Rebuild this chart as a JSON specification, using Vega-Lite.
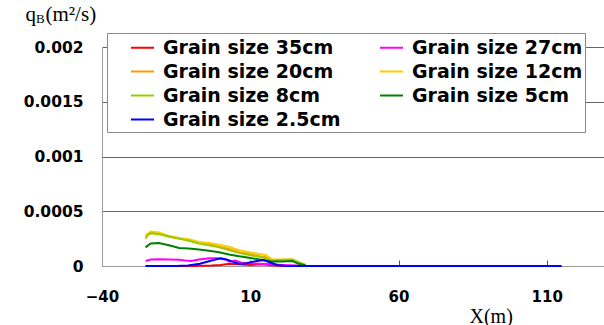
{
  "$schema": "https://vega.github.io/schema/vega-lite/v6.json",
  "width": 502,
  "height": 219,
  "autosize": {"type": "none"},
  "padding": {"left": 102, "top": 47, "right": 0, "bottom": 59},
  "background": "white",
  "title": {"text": "B", "anchor": "start", "frame": "group", "orient": "top", "font": "Liberation Serif", "fontSize": 13, "fontWeight": "normal", "color": "black", "baseline": "alphabetic", "offset": 0, "dx": -66, "dy": 33},
  "config": {"view": {"stroke": null}},
  "resolve": {"axis": {"x": "independent"}},
  "datasets": {
    "lines": [
      {"size": "Grain size 35cm", "x": -25.3, "q": 0},
      {"size": "Grain size 35cm", "x": -10, "q": 0},
      {"size": "Grain size 35cm", "x": -3, "q": 0.000005},
      {"size": "Grain size 35cm", "x": 0, "q": 0.00001},
      {"size": "Grain size 35cm", "x": 3, "q": 0.00002},
      {"size": "Grain size 35cm", "x": 6, "q": 0.000015},
      {"size": "Grain size 35cm", "x": 10, "q": 0.00001},
      {"size": "Grain size 35cm", "x": 14, "q": 0.000015},
      {"size": "Grain size 35cm", "x": 18, "q": 0.000005},
      {"size": "Grain size 35cm", "x": 22, "q": 0},
      {"size": "Grain size 35cm", "x": 27, "q": 0},

      {"size": "Grain size 27cm", "x": -25.3, "q": 0.000045},
      {"size": "Grain size 27cm", "x": -23.6, "q": 0.00006},
      {"size": "Grain size 27cm", "x": -20.8, "q": 0.000062},
      {"size": "Grain size 27cm", "x": -17.4, "q": 0.00006},
      {"size": "Grain size 27cm", "x": -14, "q": 0.000058},
      {"size": "Grain size 27cm", "x": -12, "q": 0.00005},
      {"size": "Grain size 27cm", "x": -10, "q": 0.000045},
      {"size": "Grain size 27cm", "x": -7.3, "q": 0.00006},
      {"size": "Grain size 27cm", "x": -3.9, "q": 0.00007},
      {"size": "Grain size 27cm", "x": -1, "q": 0.00007},
      {"size": "Grain size 27cm", "x": 1.5, "q": 0.00006},
      {"size": "Grain size 27cm", "x": 3, "q": 0.00004},
      {"size": "Grain size 27cm", "x": 5, "q": 0.00005},
      {"size": "Grain size 27cm", "x": 7, "q": 0.00003},
      {"size": "Grain size 27cm", "x": 10, "q": 0.000025},
      {"size": "Grain size 27cm", "x": 13, "q": 0.00002},
      {"size": "Grain size 27cm", "x": 17, "q": 0.000015},
      {"size": "Grain size 27cm", "x": 21, "q": 0.00001},
      {"size": "Grain size 27cm", "x": 26, "q": 0.000005},
      {"size": "Grain size 27cm", "x": 28.7, "q": 0},

      {"size": "Grain size 20cm", "x": -25.3, "q": 0.00025},
      {"size": "Grain size 20cm", "x": -24.5, "q": 0.00029},
      {"size": "Grain size 20cm", "x": -23, "q": 0.000305},
      {"size": "Grain size 20cm", "x": -20.8, "q": 0.0003},
      {"size": "Grain size 20cm", "x": -17.4, "q": 0.00027},
      {"size": "Grain size 20cm", "x": -14, "q": 0.00025},
      {"size": "Grain size 20cm", "x": -10.7, "q": 0.000235},
      {"size": "Grain size 20cm", "x": -7.3, "q": 0.00021},
      {"size": "Grain size 20cm", "x": -3.9, "q": 0.0002},
      {"size": "Grain size 20cm", "x": -0.5, "q": 0.000175},
      {"size": "Grain size 20cm", "x": 2.8, "q": 0.000155},
      {"size": "Grain size 20cm", "x": 6.2, "q": 0.000125},
      {"size": "Grain size 20cm", "x": 9.6, "q": 0.00011},
      {"size": "Grain size 20cm", "x": 13, "q": 0.00009},
      {"size": "Grain size 20cm", "x": 15.2, "q": 0.00008},
      {"size": "Grain size 20cm", "x": 17.4, "q": 0.000045},
      {"size": "Grain size 20cm", "x": 19.7, "q": 0.00005},
      {"size": "Grain size 20cm", "x": 24.2, "q": 0.00005},
      {"size": "Grain size 20cm", "x": 26.4, "q": 0.000025},
      {"size": "Grain size 20cm", "x": 28.7, "q": 0.000005},

      {"size": "Grain size 12cm", "x": -25.3, "q": 0.00028},
      {"size": "Grain size 12cm", "x": -23.6, "q": 0.000315},
      {"size": "Grain size 12cm", "x": -20.8, "q": 0.000305},
      {"size": "Grain size 12cm", "x": -17.4, "q": 0.000275},
      {"size": "Grain size 12cm", "x": -14, "q": 0.000255},
      {"size": "Grain size 12cm", "x": -10.7, "q": 0.000245},
      {"size": "Grain size 12cm", "x": -7.3, "q": 0.00022},
      {"size": "Grain size 12cm", "x": -3.9, "q": 0.00021},
      {"size": "Grain size 12cm", "x": -0.5, "q": 0.000195},
      {"size": "Grain size 12cm", "x": 2.8, "q": 0.000175},
      {"size": "Grain size 12cm", "x": 6.2, "q": 0.000145},
      {"size": "Grain size 12cm", "x": 9.6, "q": 0.000125},
      {"size": "Grain size 12cm", "x": 13, "q": 0.00011},
      {"size": "Grain size 12cm", "x": 15.2, "q": 0.0001},
      {"size": "Grain size 12cm", "x": 17.4, "q": 0.00006},
      {"size": "Grain size 12cm", "x": 19.7, "q": 0.00006},
      {"size": "Grain size 12cm", "x": 24.2, "q": 0.00006},
      {"size": "Grain size 12cm", "x": 26.4, "q": 0.00003},
      {"size": "Grain size 12cm", "x": 28.7, "q": 0.000008},

      {"size": "Grain size 8cm", "x": -25.3, "q": 0.000265},
      {"size": "Grain size 8cm", "x": -23.6, "q": 0.0003},
      {"size": "Grain size 8cm", "x": -20.8, "q": 0.00029},
      {"size": "Grain size 8cm", "x": -17.4, "q": 0.00027},
      {"size": "Grain size 8cm", "x": -14, "q": 0.00025},
      {"size": "Grain size 8cm", "x": -10.7, "q": 0.00023},
      {"size": "Grain size 8cm", "x": -7.3, "q": 0.000205},
      {"size": "Grain size 8cm", "x": -3.9, "q": 0.00019},
      {"size": "Grain size 8cm", "x": -0.5, "q": 0.00017},
      {"size": "Grain size 8cm", "x": 2.8, "q": 0.000145},
      {"size": "Grain size 8cm", "x": 6.2, "q": 0.00012},
      {"size": "Grain size 8cm", "x": 9.6, "q": 0.0001},
      {"size": "Grain size 8cm", "x": 13, "q": 0.000085},
      {"size": "Grain size 8cm", "x": 15.2, "q": 0.00007},
      {"size": "Grain size 8cm", "x": 17.4, "q": 0.00005},
      {"size": "Grain size 8cm", "x": 19.7, "q": 0.000055},
      {"size": "Grain size 8cm", "x": 24.2, "q": 0.00006},
      {"size": "Grain size 8cm", "x": 26.4, "q": 0.000035},
      {"size": "Grain size 8cm", "x": 28.7, "q": 0.00001},

      {"size": "Grain size 5cm", "x": -25.3, "q": 0.00017},
      {"size": "Grain size 5cm", "x": -23.6, "q": 0.000205},
      {"size": "Grain size 5cm", "x": -20.8, "q": 0.00021},
      {"size": "Grain size 5cm", "x": -17.4, "q": 0.00019},
      {"size": "Grain size 5cm", "x": -14, "q": 0.000165},
      {"size": "Grain size 5cm", "x": -10.7, "q": 0.00016},
      {"size": "Grain size 5cm", "x": -7.3, "q": 0.00015},
      {"size": "Grain size 5cm", "x": -3.9, "q": 0.00014},
      {"size": "Grain size 5cm", "x": -0.5, "q": 0.000125},
      {"size": "Grain size 5cm", "x": 2.8, "q": 0.000105},
      {"size": "Grain size 5cm", "x": 6.2, "q": 0.00009},
      {"size": "Grain size 5cm", "x": 9.6, "q": 0.000075},
      {"size": "Grain size 5cm", "x": 13, "q": 0.00006},
      {"size": "Grain size 5cm", "x": 15.2, "q": 0.00005},
      {"size": "Grain size 5cm", "x": 17.4, "q": 0.00004},
      {"size": "Grain size 5cm", "x": 21, "q": 0.00004},
      {"size": "Grain size 5cm", "x": 24.2, "q": 0.000045},
      {"size": "Grain size 5cm", "x": 26.4, "q": 0.00002},
      {"size": "Grain size 5cm", "x": 28.7, "q": 0.000005},

      {"size": "Grain size 2.5cm", "x": -25.3, "q": 0},
      {"size": "Grain size 2.5cm", "x": -15, "q": 0},
      {"size": "Grain size 2.5cm", "x": -11, "q": 0.000005},
      {"size": "Grain size 2.5cm", "x": -7, "q": 0.00002},
      {"size": "Grain size 2.5cm", "x": -3, "q": 0.00005},
      {"size": "Grain size 2.5cm", "x": 0, "q": 0.00007},
      {"size": "Grain size 2.5cm", "x": 2, "q": 0.00006},
      {"size": "Grain size 2.5cm", "x": 4, "q": 0.00004},
      {"size": "Grain size 2.5cm", "x": 6, "q": 0.00002},
      {"size": "Grain size 2.5cm", "x": 8, "q": 0.00002},
      {"size": "Grain size 2.5cm", "x": 11, "q": 0.00004},
      {"size": "Grain size 2.5cm", "x": 14.5, "q": 0.000055},
      {"size": "Grain size 2.5cm", "x": 17, "q": 0.00003},
      {"size": "Grain size 2.5cm", "x": 19, "q": 0.00001},
      {"size": "Grain size 2.5cm", "x": 22, "q": 0},
      {"size": "Grain size 2.5cm", "x": 30, "q": 0},
      {"size": "Grain size 2.5cm", "x": 115, "q": 0}
    ]
  },
  "layer": [
    {
      "mark": {"type": "rule", "color": "#555555", "strokeWidth": 1},
      "encoding": {
        "x": {
          "datum": 0, "type": "quantitative",
          "scale": {"domain": [-40, 129.3], "nice": false, "zero": false},
          "axis": {
            "orient": "top",
            "labels": false,
            "ticks": false,
            "domain": false,
            "grid": false,
            "title": "(m²/s)",
            "titleFont": "Liberation Serif",
            "titleFontWeight": "normal",
            "titleFontSize": 21,
            "titleColor": "black",
            "titleAngle": 0,
            "titleAlign": "left",
            "titleBaseline": "alphabetic",
            "titleX": -57,
            "titleY": -27
          }
        }
      }
    },
    {
      "data": {"name": "lines"},
      "mark": {"type": "line", "strokeWidth": 2, "interpolate": "linear"},
      "encoding": {
        "x": {
          "field": "x", "type": "quantitative",
          "scale": {"domain": [-40, 129.3], "nice": false, "zero": false},
          "axis": {
            "orient": "bottom",
            "values": [-40, 10, 60, 110],
            "grid": false,
            "domainColor": "#999999",
            "tickColor": "#555555",
            "tickSize": -6,
            "labelPadding": 36,
            "labelFont": "DejaVu Sans",
            "labelFontWeight": "bold",
            "labelFontSize": 15,
            "labelColor": "black",
            "labelBaseline": "middle",
            "labelFlush": false,
            "title": "X(m)",
            "titleFont": "Liberation Serif",
            "titleFontWeight": "normal",
            "titleFontSize": 20,
            "titleColor": "black",
            "titleAnchor": "start",
            "titleAlign": "left",
            "titleBaseline": "alphabetic",
            "titleX": 367,
            "titleY": 56
          }
        },
        "y": {
          "field": "q", "type": "quantitative",
          "scale": {"domain": [0, 0.002], "nice": false},
          "axis": {
            "values": [0, 0.0005, 0.001, 0.0015, 0.002],
            "format": "~g",
            "grid": true,
            "gridColor": "#666666",
            "gridWidth": 1,
            "ticks": false,
            "domainColor": "#999999",
            "labelPadding": 19,
            "labelFont": "DejaVu Sans",
            "labelFontWeight": "bold",
            "labelFontSize": 15.5,
            "labelColor": "black",
            "labelFlush": false,
            "title": "q",
            "titleFont": "Liberation Serif",
            "titleFontWeight": "normal",
            "titleFontSize": 21,
            "titleColor": "black",
            "titleAngle": 0,
            "titleAlign": "left",
            "titleBaseline": "alphabetic",
            "titleX": -77,
            "titleY": -27
          }
        },
        "color": {
          "field": "size", "type": "nominal",
          "scale": {
            "domain": ["Grain size 35cm", "Grain size 27cm", "Grain size 20cm", "Grain size 12cm", "Grain size 8cm", "Grain size 5cm", "Grain size 2.5cm"],
            "range": ["#FF0000", "#FF00FF", "#FF9900", "#FFCC00", "#99CC00", "#008000", "#0000FF"]
          },
          "legend": {
            "title": null,
            "orient": "none",
            "legendX": 5,
            "legendY": -14,
            "direction": "horizontal",
            "columns": 2,
            "columnPadding": 17,
            "rowPadding": 1,
            "padding": 2,
            "fillColor": "white",
            "strokeColor": "#888888",
            "symbolType": "stroke",
            "symbolSize": 529,
            "symbolStrokeWidth": 2,
            "symbolOffset": 21,
            "labelOffset": 8,
            "labelFont": "DejaVu Sans",
            "labelFontWeight": "bold",
            "labelFontSize": 19,
            "labelColor": "black",
            "labelLimit": 400
          }
        }
      }
    }
  ]
}
